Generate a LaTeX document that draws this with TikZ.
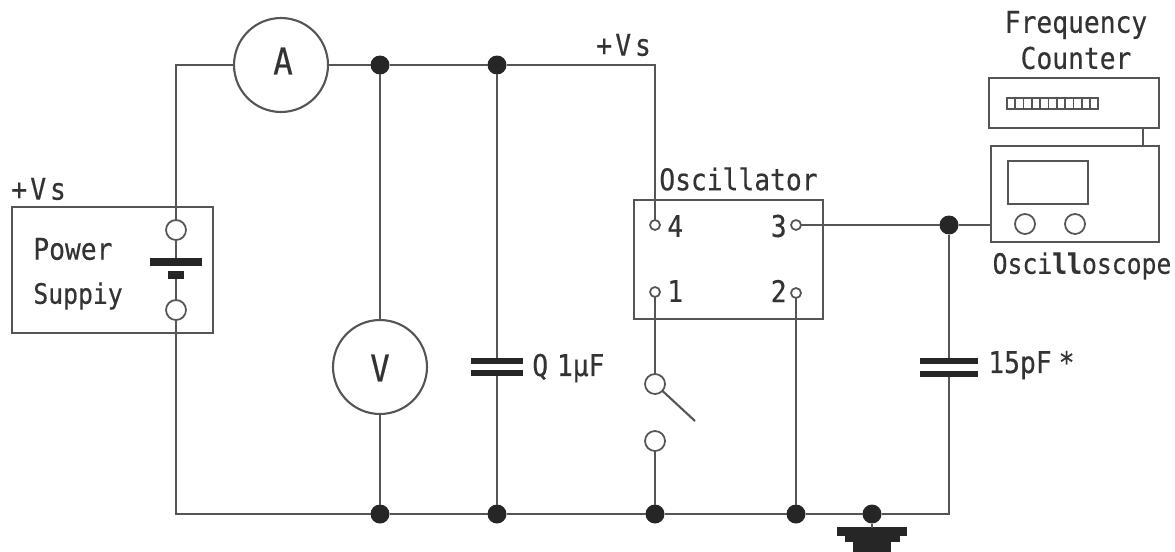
\documentclass[tikz,border=0pt]{standalone}
\usepackage{fontspec}
\setmainfont[FakeStretch=0.88,FakeBold=0.4]{DejaVu Sans Mono}
\definecolor{wirecol}{HTML}{555555}
\definecolor{inkcol}{HTML}{333333}
\tikzset{
  wire/.style={draw=wirecol, line width=1.2pt},
  box/.style={rectangle, draw=wirecol, line width=1.2pt, inner sep=0pt, outer sep=0pt},
  meter/.style={circle, draw=wirecol, line width=1.2pt, fill=white, minimum size=1.88cm, inner sep=0pt, outer sep=0pt},
  meterlbl/.style={text=inkcol, inner sep=0pt, font=\fontsize{21}{24}\selectfont},
  dot/.style={circle, fill=black!85, minimum size=0.38cm, inner sep=0pt, outer sep=0pt},
  pin/.style={circle, draw=wirecol, line width=1pt, fill=white, minimum size=0.4cm, inner sep=0pt, outer sep=0pt},
  smallpin/.style={pin, minimum size=0.2cm},
  plate/.style={rectangle, fill=black!85, inner sep=0pt, outer sep=0pt},
  lbl/.style={text=inkcol, inner sep=0pt, font=\fontsize{17}{20}\selectfont},
  smalllbl/.style={lbl, font=\fontsize{16}{18}\selectfont},
}
\newcommand{\vsupply}{+\kern1.8pt V\kern2.2pt s}
\begin{document}
\begin{tikzpicture}[x=0.02cm, y=-0.02cm]
  \useasboundingbox (0,0) rectangle (1175,551);
  % power supply
  \node[box, minimum width=4.02cm, minimum height=2.52cm] (supply) at (112.5,270) {};
  \node[pin] (plus) at (176,230) {};
  \node[pin] (minus) at (176,310) {};
  \node[plate, minimum width=1.04cm, minimum height=0.16cm] (batlong) at (176,262) {};
  \node[plate, minimum width=0.32cm, minimum height=0.16cm] (batshort) at (176,275) {};
  \node[lbl, anchor=west] (power) at (33,249) {Power};
  \node[smalllbl, anchor=west] (suppiy) at (33,296) {Suppiy};
  \node[lbl, anchor=west] (vsleft) at (11,189) {\vsupply};
  % meters
  \node[meter] (A) at (281,65) {};
  \node[meter] (V) at (380,367) {};
  \node[meterlbl] (Alabel) at (283,61) {A};
  \node[meterlbl] (Vlabel) at (380,368) {V};
  % junctions
  \node[dot] (top1) at (380,65) {};
  \node[dot] (top2) at (497,65) {};
  \node[dot] (bot1) at (380,514) {};
  \node[dot] (bot2) at (497,514) {};
  \node[dot] (bot3) at (655,514) {};
  \node[dot] (bot4) at (796,514) {};
  \node[dot] (bot5) at (872,514) {};
  \node[dot] (out) at (949,225) {};
  \coordinate (tl) at (176,65);
  \coordinate (bl) at (176,514);
  \coordinate (tr) at (655,65);
  \coordinate (br) at (949,514);
  % capacitors
  \node[plate, minimum width=1.04cm, minimum height=0.13cm] (c1a) at (497,361) {};
  \node[plate, minimum width=1.04cm, minimum height=0.13cm] (c1b) at (497,373) {};
  \node[plate, minimum width=1.16cm, minimum height=0.13cm] (c2a) at (949,361) {};
  \node[plate, minimum width=1.16cm, minimum height=0.13cm] (c2b) at (949,374) {};
  \node[lbl, anchor=west] (c1lbl) at (532,368) {Q\kern-4pt\ 1µF};
  \node[lbl, anchor=west] (c2lbl) at (988,365) {15pF\kern4pt*};
  \node[lbl, anchor=west] (vstop) at (596,45) {\vsupply};
  % oscillator
  \node[box, minimum width=3.78cm, minimum height=2.38cm] (osc) at (728.5,259.5) {};
  \node[smallpin] (t4) at (655,225) {};
  \node[smallpin] (t3) at (796,225) {};
  \node[smallpin] (t1) at (655,292) {};
  \node[smallpin] (t2) at (796,293) {};
  \node[lbl, anchor=west] at (667,226) (n4) {4};
  \node[lbl, anchor=east] at (787,226) (n3) {3};
  \node[lbl, anchor=west] at (667,291) (n1) {1};
  \node[lbl, anchor=east] at (787,291) (n2) {2};
  \node[lbl, anchor=west] (osclbl) at (659,179) {Oscillator};
  % switch
  \node[pin] (sw1) at (655,384) {};
  \node[pin] (sw2) at (655,441) {};
  \coordinate (swend) at (695,421);
  % ground
  \coordinate (gnd) at (872,528);
  \node[plate, minimum width=1.4cm, minimum height=0.18cm] (g1) at (872,531) {};
  \node[plate, minimum width=1.1cm, minimum height=0.14cm] (g2) at (872,538.5) {};
  \node[plate, minimum width=0.76cm, minimum height=0.22cm] (g3) at (872,546) {};
  % counter and scope
  \node[box, minimum width=3.4cm, minimum height=1cm] (counter) at (1074,103) {};
  \node[box, line width=0.8pt, minimum width=1.82cm, minimum height=0.22cm] (digits) at (1052.5,103.5) {};
  \foreach \i in {1,...,10}
    \draw[wirecol, line width=1pt] (1007+8.3*\i,98) -- (1007+8.3*\i,109);
  \node[box, minimum width=3.36cm, minimum height=1.92cm] (scope) at (1075,194) {};
  \node[box, minimum width=1.6cm, minimum height=0.86cm] (screen) at (1048,182.5) {};
  \node[pin] (knob1) at (1025,224) {};
  \node[pin] (knob2) at (1075,224) {};
  \coordinate (scopein) at (991,225);
  \coordinate (linkup) at (1143,128);
  \coordinate (linkdn) at (1143,146);
  \node[lbl] (freq) at (1076,25) {Frequency};
  \node[lbl] (cnt) at (1076,58) {Counter};
  \node[smalllbl] (scopelbl) at (1082,266) {Osci{\bfseries ll}oscope};
  % wires
  \draw[wire] (plus) -- (tl) -- (A);
  \draw[wire] (A) -- (top1);
  \draw[wire] (top1) -- (top2);
  \draw[wire] (top2) -- (tr) -- (t4);
  \draw[wire] (top1) -- (V);
  \draw[wire] (V) -- (bot1);
  \draw[wire] (top2) -- (c1a);
  \draw[wire] (c1b) -- (bot2);
  \draw[wire] (minus) -- (bl) -- (bot1);
  \draw[wire] (bot1) -- (bot2);
  \draw[wire] (bot2) -- (bot3);
  \draw[wire] (bot3) -- (bot4);
  \draw[wire] (bot4) -- (bot5);
  \draw[wire] (bot5) -- (br) -- (c2b);
  \draw[wire] (c2a) -- (out);
  \draw[wire] (t3) -- (out);
  \draw[wire] (out) -- (scopein);
  \draw[wire] (plus) -- (batlong);
  \draw[wire] (batshort) -- (minus);
  \draw[wire] (t1) -- (sw1);
  \draw[wire] (sw1) -- (swend);
  \draw[wire] (sw2) -- (bot3);
  \draw[wire] (t2) -- (bot4);
  \draw[wire] (bot5) -- (gnd);
  \draw[wire] (linkup) -- (linkdn);
\end{tikzpicture}
\end{document}
